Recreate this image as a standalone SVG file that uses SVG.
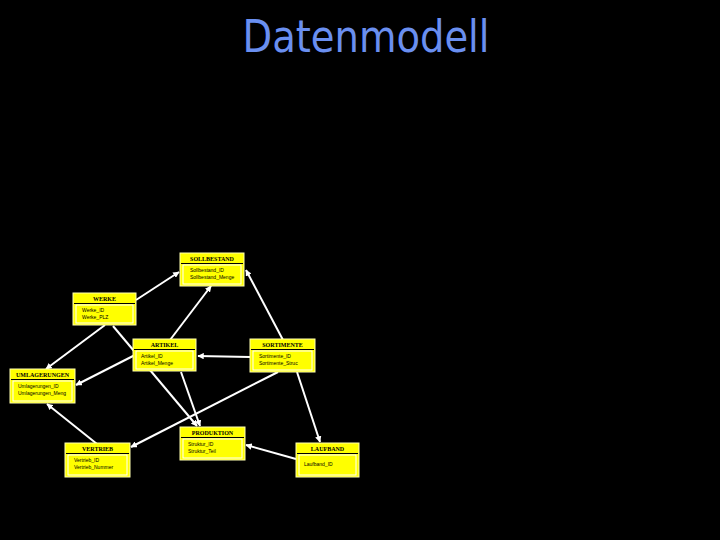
<svg xmlns="http://www.w3.org/2000/svg" width="720" height="540" viewBox="0 0 720 540">
<defs>
<marker id="ah" viewBox="0 0 10 10" refX="9" refY="5" markerWidth="3.2" markerHeight="3.2" orient="auto" markerUnits="strokeWidth">
<path d="M0,0 L10,5 L0,10 z" fill="#ffffff"/>
</marker>
<style>
.outer{fill:#ffff00;stroke:#ffffb0;stroke-width:1}
.sep{stroke:#000;stroke-width:1}
.body{fill:#ffff00;stroke:#ffffff;stroke-width:1}
.hd{font-family:"Liberation Serif",serif;font-weight:bold;font-size:6px;fill:#000;text-anchor:middle}
.fd{font-family:"Liberation Sans",sans-serif;font-size:5px;fill:#000}
.cn line{stroke:#ffffff;stroke-width:2;marker-end:url(#ah)}
</style>
</defs>
<rect width="720" height="540" fill="#000"/>
<text x="366" y="52" font-family="'DejaVu Sans',sans-serif" font-size="44" fill="#6a8ff0" text-anchor="middle" textLength="247" lengthAdjust="spacingAndGlyphs">Datenmodell</text>

<g class="cn">
<line x1="136" y1="300" x2="179" y2="272"/>
<line x1="170" y1="340" x2="211" y2="286"/>
<line x1="283" y1="340" x2="246" y2="270"/>
<line x1="105" y1="325" x2="46" y2="369"/>
<line x1="135" y1="355" x2="76" y2="385"/>
<line x1="113" y1="326" x2="197" y2="426"/>
<line x1="181" y1="372" x2="200" y2="426"/>
<line x1="250" y1="357" x2="198" y2="356"/>
<line x1="278" y1="372" x2="131" y2="447"/>
<line x1="297" y1="372" x2="320" y2="442"/>
<line x1="97" y1="444" x2="47" y2="404"/>
<line x1="296" y1="459" x2="246" y2="445"/>
</g>

<g id="sollbestand">
<rect class="outer" x="180" y="253" width="64" height="33"/>
<line class="sep" x1="181" y1="263.5" x2="243" y2="263.5"/>
<rect class="body" x="183" y="265" width="58" height="19"/>
<text class="hd" x="212" y="261">SOLLBESTAND</text>
<text class="fd" x="190" y="272">Sollbestand_ID</text>
<text class="fd" x="190" y="279">Sollbestand_Menge</text>
</g>

<g id="werke">
<rect class="outer" x="73" y="293" width="63" height="32"/>
<line class="sep" x1="74" y1="303.5" x2="135" y2="303.5"/>
<rect class="body" x="76" y="305" width="57" height="18"/>
<text class="hd" x="104.5" y="301">WERKE</text>
<text class="fd" x="82" y="312">Werke_ID</text>
<text class="fd" x="82" y="319">Werke_PLZ</text>
</g>

<g id="artikel">
<rect class="outer" x="133" y="339" width="63" height="32"/>
<line class="sep" x1="134" y1="349.5" x2="195" y2="349.5"/>
<rect class="body" x="136" y="351" width="57" height="18"/>
<text class="hd" x="164.5" y="347">ARTIKEL</text>
<text class="fd" x="141" y="358">Artikel_ID</text>
<text class="fd" x="141" y="365">Artikel_Menge</text>
</g>

<g id="sortimente">
<rect class="outer" x="250" y="339" width="65" height="33"/>
<line class="sep" x1="251" y1="349.5" x2="314" y2="349.5"/>
<rect class="body" x="253" y="351" width="59" height="19"/>
<text class="hd" x="282.5" y="347">SORTIMENTE</text>
<text class="fd" x="259" y="358">Sortimente_ID</text>
<text class="fd" x="259" y="365">Sortimente_Struc</text>
</g>

<g id="umlagerungen">
<rect class="outer" x="10" y="369" width="65" height="34"/>
<line class="sep" x1="11" y1="379.5" x2="74" y2="379.5"/>
<rect class="body" x="13" y="381" width="59" height="20"/>
<text class="hd" x="42.5" y="377">UMLAGERUNGEN</text>
<text class="fd" x="18" y="388">Umlagerungen_ID</text>
<text class="fd" x="18" y="395">Umlagerungen_Meng</text>
</g>

<g id="vertrieb">
<rect class="outer" x="65" y="443" width="65" height="34"/>
<line class="sep" x1="66" y1="453.5" x2="129" y2="453.5"/>
<rect class="body" x="68" y="455" width="59" height="20"/>
<text class="hd" x="97.5" y="451">VERTRIEB</text>
<text class="fd" x="74" y="462">Vertrieb_ID</text>
<text class="fd" x="74" y="469">Vertrieb_Nummer</text>
</g>

<g id="produktion">
<rect class="outer" x="180" y="427" width="65" height="33"/>
<line class="sep" x1="181" y1="437.5" x2="244" y2="437.5"/>
<rect class="body" x="183" y="439" width="59" height="19"/>
<text class="hd" x="212.5" y="435">PRODUKTION</text>
<text class="fd" x="188" y="446">Struktur_ID</text>
<text class="fd" x="188" y="453">Struktur_Teil</text>
</g>

<g id="laufband">
<rect class="outer" x="296" y="443" width="63" height="34"/>
<line class="sep" x1="297" y1="453.5" x2="358" y2="453.5"/>
<rect class="body" x="299" y="455" width="57" height="20"/>
<text class="hd" x="327.5" y="451">LAUFBAND</text>
<text class="fd" x="304" y="466">Laufband_ID</text>
</g>
</svg>
